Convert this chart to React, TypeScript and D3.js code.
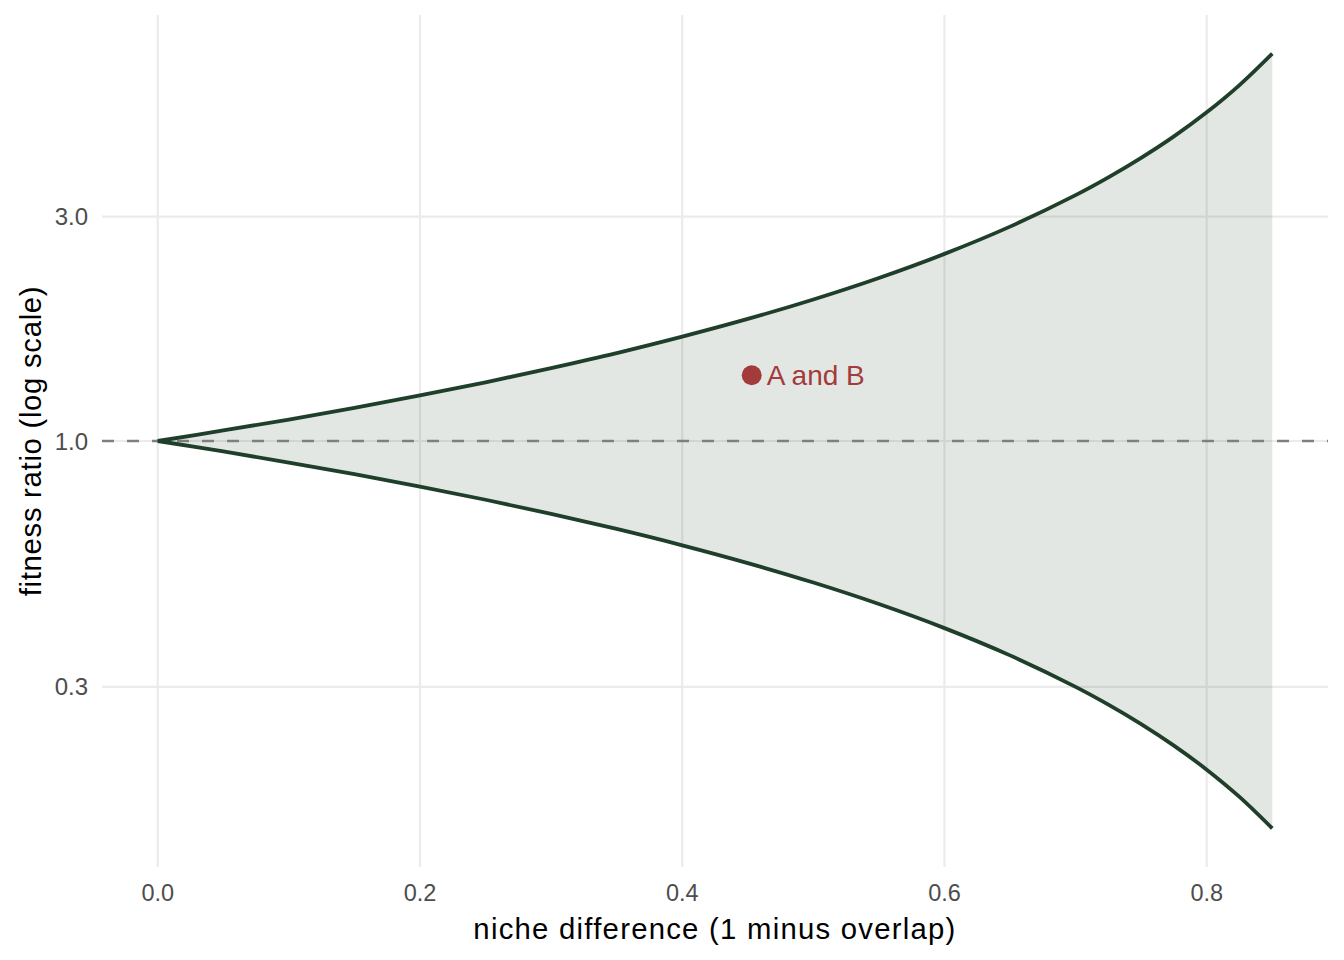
import React, { useRef, useEffect } from "react";
import * as d3 from "d3";

// niche difference values sampled along the x axis
const nicheDiff = [0, 0.05, 0.1, 0.15, 0.2, 0.25, 0.3, 0.35, 0.4, 0.45, 0.5, 0.55, 0.6, 0.65, 0.7, 0.725, 0.75, 0.775, 0.8, 0.825, 0.85];
// upper bound of the coexistence region (fitness ratio)
const upperRatio = [1, 1.053, 1.111, 1.176, 1.25, 1.333, 1.429, 1.538, 1.667, 1.818, 2, 2.222, 2.5, 2.857, 3.333, 3.636, 4, 4.444, 5, 5.714, 6.667];
// lower bound of the coexistence region (fitness ratio)
const lowerRatio = [1, 0.95, 0.9, 0.85, 0.8, 0.75, 0.7, 0.65, 0.6, 0.55, 0.5, 0.45, 0.4, 0.35, 0.3, 0.275, 0.25, 0.225, 0.2, 0.175, 0.15];

const xTicks = [0, 0.2, 0.4, 0.6, 0.8];
const yTicks = [0.3, 1, 3];

const pairLabel = "A and B";
const pairNiche = 0.453;
const pairRatio = 1.38;

const W = 1344;
const H = 960;

type Row = { x: number; hi: number; lo: number };

export default function App() {
  const svgRef = useRef<SVGSVGElement>(null);

  useEffect(() => {
    const svg = d3.select(svgRef.current);
    svg.selectAll("*").remove();

    const left = 102;
    const right = 1328;
    const top = 15;
    const bottom = 867;

    const xs = d3.scaleLinear().domain([-0.0425, 0.8925]).range([left, right]);
    const ys = d3.scaleLog().domain([Math.pow(10, -0.906), Math.pow(10, 0.906)]).range([bottom, top]);

    const font = "'Liberation Sans', Arial, Helvetica, sans-serif";

    // grid
    const grid = svg.append("g");
    grid.selectAll("line.gx")
      .data(xTicks)
      .join("line")
      .attr("x1", (d) => xs(d)).attr("x2", (d) => xs(d))
      .attr("y1", top).attr("y2", bottom)
      .attr("stroke", "#ebebeb").attr("stroke-width", 2.2);
    grid.selectAll("line.gy")
      .data(yTicks)
      .join("line")
      .attr("y1", (d) => ys(d)).attr("y2", (d) => ys(d))
      .attr("x1", left).attr("x2", right)
      .attr("stroke", "#ebebeb").attr("stroke-width", 2.2);

    const data: Row[] = nicheDiff.map((x, i) => ({ x, hi: upperRatio[i], lo: lowerRatio[i] }));

    const area = d3.area<Row>()
      .x((d) => xs(d.x))
      .y0((d) => ys(d.lo))
      .y1((d) => ys(d.hi))
      .curve(d3.curveCatmullRom);

    svg.append("path")
      .datum(data)
      .attr("fill", "#1f3f2a")
      .attr("fill-opacity", 0.125)
      .attr("d", area);

    // dashed reference at ratio 1
    svg.append("line")
      .attr("x1", left).attr("x2", right)
      .attr("y1", ys(1)).attr("y2", ys(1))
      .attr("stroke", "#7f7f7f").attr("stroke-width", 2.4)
      .attr("stroke-dasharray", "12,13");

    const lineHi = d3.line<Row>().x((d) => xs(d.x)).y((d) => ys(d.hi)).curve(d3.curveCatmullRom);
    const lineLo = d3.line<Row>().x((d) => xs(d.x)).y((d) => ys(d.lo)).curve(d3.curveCatmullRom);

    [lineHi, lineLo].forEach((ln) => {
      svg.append("path")
        .datum(data)
        .attr("fill", "none")
        .attr("stroke", "#1f3f2a")
        .attr("stroke-width", 3.8)
        .attr("d", ln);
    });

    // species pair
    svg.append("circle")
      .attr("cx", xs(pairNiche)).attr("cy", ys(pairRatio))
      .attr("r", 10)
      .attr("fill", "#a33b3b");
    svg.append("text")
      .attr("x", xs(pairNiche) + 15).attr("y", ys(pairRatio))
      .attr("dy", "0.36em")
      .attr("fill", "#a33b3b")
      .style("font-family", font).style("font-size", "28px")
      .text(pairLabel);

    // tick labels
    svg.selectAll("text.xt")
      .data(xTicks)
      .join("text")
      .attr("x", (d) => xs(d)).attr("y", 893)
      .attr("dy", "0.36em")
      .attr("text-anchor", "middle")
      .attr("fill", "#4d4d4d")
      .style("font-family", font).style("font-size", "23.5px")
      .text((d) => d3.format(".1f")(d));

    svg.selectAll("text.yt")
      .data(yTicks)
      .join("text")
      .attr("x", 88).attr("y", (d) => ys(d))
      .attr("dy", "0.36em")
      .attr("text-anchor", "end")
      .attr("fill", "#4d4d4d")
      .style("font-family", font).style("font-size", "24px")
      .text((d) => d3.format(".1f")(d));

    // axis titles
    svg.append("text")
      .attr("x", (left + right) / 2).attr("y", 928)
      .attr("dy", "0.36em")
      .attr("text-anchor", "middle")
      .attr("fill", "#000")
      .style("font-family", font).style("font-size", "29.3px")
      .style("letter-spacing", "1.25px")
      .text("niche difference (1 minus overlap)");

    svg.append("text")
      .attr("transform", `translate(30,${(top + bottom) / 2}) rotate(-90)`)
      .attr("dy", "0.36em")
      .attr("text-anchor", "middle")
      .attr("fill", "#000")
      .style("font-family", font).style("font-size", "29.3px")
      .style("letter-spacing", "0.7px")
      .text("fitness ratio (log scale)");
  }, []);

  return (
    <div style={{ margin: -8, width: W, height: H, background: "#fff" }}>
      <svg ref={svgRef} width={W} height={H} style={{ display: "block" }} />
    </div>
  );
}
